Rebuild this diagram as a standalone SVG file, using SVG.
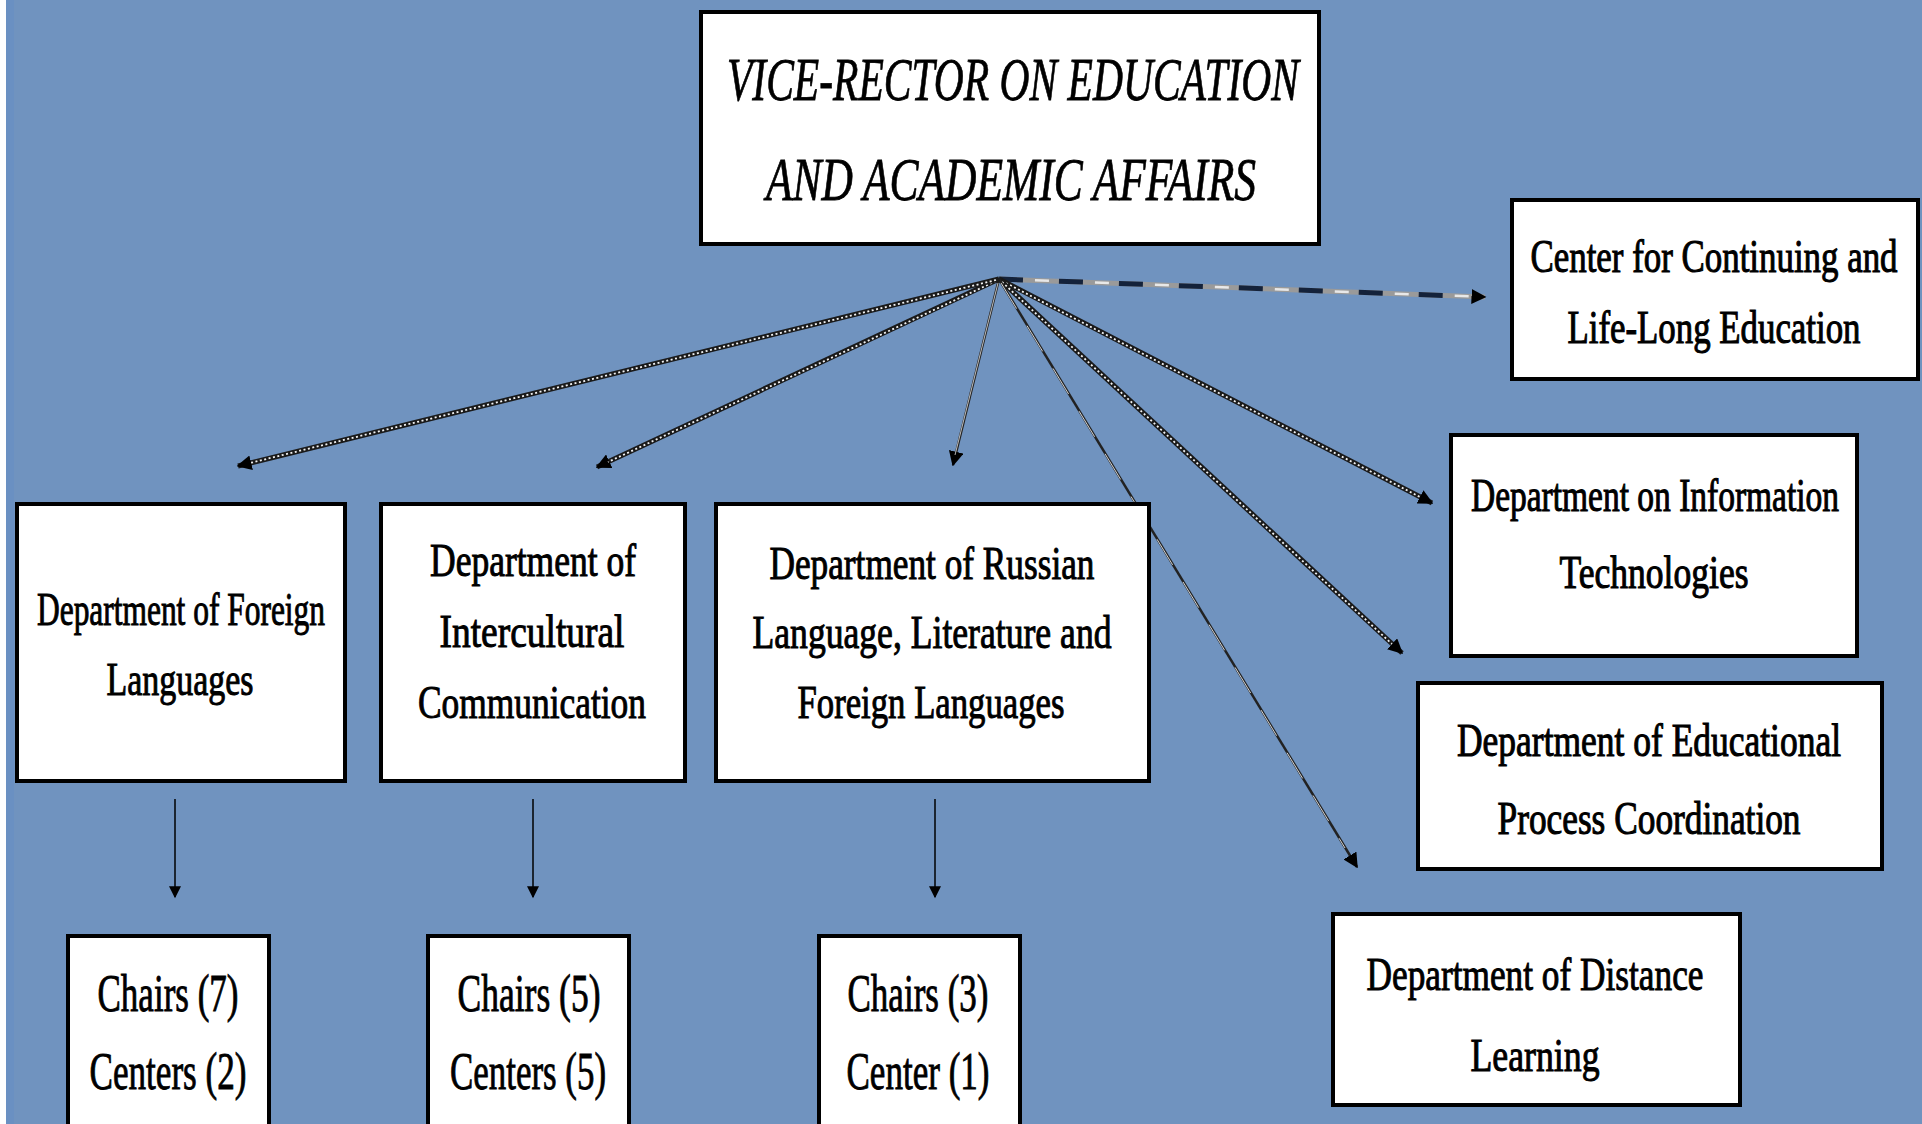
<svg xmlns="http://www.w3.org/2000/svg" width="1922" height="1124" viewBox="0 0 1922 1124">
<style>
.box{fill:#fff;stroke:#000;stroke-width:4}
.t{font-family:"Liberation Serif",serif;font-size:46px;fill:#000;text-anchor:middle;stroke:#000;stroke-width:1}
.s{font-size:34px;stroke-width:0.8}
.ti{font-family:"Liberation Serif",serif;font-size:62px;font-style:italic;fill:#000;text-anchor:middle;stroke:#000;stroke-width:0.8}
.tc{font-family:"Liberation Serif",serif;font-size:52px;fill:#000;text-anchor:middle;stroke:#000;stroke-width:0.9}
.dot{stroke:#1a1a1a;stroke-width:5;fill:none}
.dotw{stroke:#f2f2f2;stroke-width:1.8;stroke-dasharray:2 2.5;fill:none}
.thin{stroke:#222;stroke-width:2.5;fill:none}
.thinw{stroke:#fff;stroke-width:0.8;stroke-dasharray:30 20;fill:none}
.down{stroke:#000;stroke-width:1.5;fill:none}
</style>
<defs>
<marker id="ah" viewBox="0 0 10 10" refX="9" refY="5" markerWidth="15" markerHeight="15" markerUnits="userSpaceOnUse" orient="auto"><path d="M0,0 L10,5 L0,10 z" fill="#000"/></marker>
<marker id="ahs" viewBox="0 0 10 10" refX="9" refY="5" markerWidth="18" markerHeight="12" markerUnits="userSpaceOnUse" orient="auto"><path d="M0,0 L10,5 L0,10 z" fill="#000"/></marker>
</defs>
<rect x="0" y="0" width="1922" height="1124" fill="#7093bf"/>
<rect x="0" y="0" width="6" height="1124" fill="#fff"/>
<rect x="6" y="0" width="8" height="1124" fill="#6a90c2"/>

<g id="connectors">
  <line x1="999" y1="279" x2="1485" y2="297" stroke="#9a9a9a" stroke-width="5" marker-end="url(#ah)"/>
  <line x1="999" y1="279" x2="1475" y2="296.6" stroke="#14223a" stroke-width="5" stroke-dasharray="24 36"/>
  <line x1="999" y1="279" x2="1475" y2="296.6" stroke="#e8e8e8" stroke-width="2.5" stroke-dasharray="14 46" stroke-dashoffset="-36"/>
  <line class="dot" x1="999" y1="279" x2="1432" y2="503" marker-end="url(#ah)"/>
  <line class="dotw" x1="1002" y1="281" x2="1420" y2="497"/>
  <line class="dot" x1="999" y1="279" x2="1402" y2="653" marker-end="url(#ah)"/>
  <line class="dotw" x1="1002" y1="282" x2="1392" y2="644"/>
  <line class="thin" x1="999" y1="279" x2="1357" y2="867" marker-end="url(#ah)"/>
  <line class="thinw" x1="1001" y1="283" x2="1345" y2="848"/>
  <line class="thin" x1="999" y1="279" x2="953" y2="465" marker-end="url(#ah)"/>
  <line stroke="#fff" stroke-width="0.7" x1="998" y1="283" x2="955" y2="455"/>
  <line class="dot" x1="999" y1="279" x2="597" y2="467" marker-end="url(#ah)"/>
  <line class="dotw" x1="996" y1="281" x2="608" y2="462"/>
  <line class="dot" x1="999" y1="279" x2="238" y2="466" marker-end="url(#ah)"/>
  <line class="dotw" x1="996" y1="280" x2="250" y2="463"/>
  <line class="down" x1="175" y1="799" x2="175" y2="897" marker-end="url(#ahs)"/>
  <line class="down" x1="533" y1="799" x2="533" y2="897" marker-end="url(#ahs)"/>
  <line class="down" x1="935" y1="799" x2="935" y2="897" marker-end="url(#ahs)"/>
</g>

<g id="vice-rector">
  <rect class="box" x="701" y="12" width="618" height="232" stroke-width="6"/>
  <text class="ti" x="1013" y="100" textLength="572" lengthAdjust="spacingAndGlyphs">VICE-RECTOR ON EDUCATION</text>
  <text class="ti" x="1011" y="200" textLength="490" lengthAdjust="spacingAndGlyphs">AND ACADEMIC AFFAIRS</text>
</g>

<g id="center-continuing">
  <rect class="box" x="1512" y="200" width="406" height="179"/>
  <text class="t s" transform="translate(1714,272) scale(1,1.35)" x="0" y="0" textLength="367" lengthAdjust="spacingAndGlyphs">Center for Continuing and</text>
  <text class="t s" transform="translate(1714,343) scale(1,1.35)" x="0" y="0" textLength="293" lengthAdjust="spacingAndGlyphs">Life-Long Education</text>
</g>

<g id="dept-it">
  <rect class="box" x="1451" y="435" width="406" height="221"/>
  <text class="t s" transform="translate(1655,511) scale(1,1.35)" x="0" y="0" textLength="368" lengthAdjust="spacingAndGlyphs">Department on Information</text>
  <text class="t s" transform="translate(1654,588) scale(1,1.35)" x="0" y="0" textLength="189" lengthAdjust="spacingAndGlyphs">Technologies</text>
</g>

<g id="dept-educational">
  <rect class="box" x="1418" y="683" width="464" height="186"/>
  <text class="t s" transform="translate(1649,756) scale(1,1.35)" x="0" y="0" textLength="384" lengthAdjust="spacingAndGlyphs">Department of Educational</text>
  <text class="t s" transform="translate(1649,834) scale(1,1.35)" x="0" y="0" textLength="303" lengthAdjust="spacingAndGlyphs">Process Coordination</text>
</g>

<g id="dept-distance">
  <rect class="box" x="1333" y="914" width="407" height="191"/>
  <text class="t" x="1535" y="990" textLength="337" lengthAdjust="spacingAndGlyphs">Department of Distance</text>
  <text class="t" x="1535" y="1071" textLength="129" lengthAdjust="spacingAndGlyphs">Learning</text>
</g>

<g id="dept-foreign">
  <rect class="box" x="17" y="504" width="328" height="277"/>
  <text class="t" x="181" y="625" textLength="288" lengthAdjust="spacingAndGlyphs">Department of Foreign</text>
  <text class="t" x="180" y="695" textLength="147" lengthAdjust="spacingAndGlyphs">Languages</text>
</g>

<g id="dept-intercultural">
  <rect class="box" x="381" y="504" width="304" height="277"/>
  <text class="t" x="533" y="576" textLength="206" lengthAdjust="spacingAndGlyphs">Department of</text>
  <text class="t" x="532" y="647" textLength="185" lengthAdjust="spacingAndGlyphs">Intercultural</text>
  <text class="t" x="532" y="718" textLength="228" lengthAdjust="spacingAndGlyphs">Communication</text>
</g>

<g id="dept-russian">
  <rect class="box" x="716" y="504" width="433" height="277"/>
  <text class="t" x="932" y="579" textLength="325" lengthAdjust="spacingAndGlyphs">Department of Russian</text>
  <text class="t" x="932" y="648" textLength="359" lengthAdjust="spacingAndGlyphs">Language, Literature and</text>
  <text class="t" x="931" y="718" textLength="267" lengthAdjust="spacingAndGlyphs">Foreign Languages</text>
</g>

<g id="chairs-foreign">
  <rect class="box" x="68" y="936" width="201" height="200" stroke-width="5"/>
  <text class="tc" x="168" y="1011" textLength="141" lengthAdjust="spacingAndGlyphs">Chairs (7)</text>
  <text class="tc" x="168" y="1089" textLength="157" lengthAdjust="spacingAndGlyphs">Centers (2)</text>
</g>

<g id="chairs-intercultural">
  <rect class="box" x="428" y="936" width="201" height="200" stroke-width="5"/>
  <text class="tc" x="529" y="1011" textLength="143" lengthAdjust="spacingAndGlyphs">Chairs (5)</text>
  <text class="tc" x="528" y="1089" textLength="156" lengthAdjust="spacingAndGlyphs">Centers (5)</text>
</g>

<g id="chairs-russian">
  <rect class="box" x="819" y="936" width="201" height="200" stroke-width="5"/>
  <text class="tc" x="918" y="1011" textLength="141" lengthAdjust="spacingAndGlyphs">Chairs (3)</text>
  <text class="tc" x="918" y="1089" textLength="143" lengthAdjust="spacingAndGlyphs">Center (1)</text>
</g>
</svg>
